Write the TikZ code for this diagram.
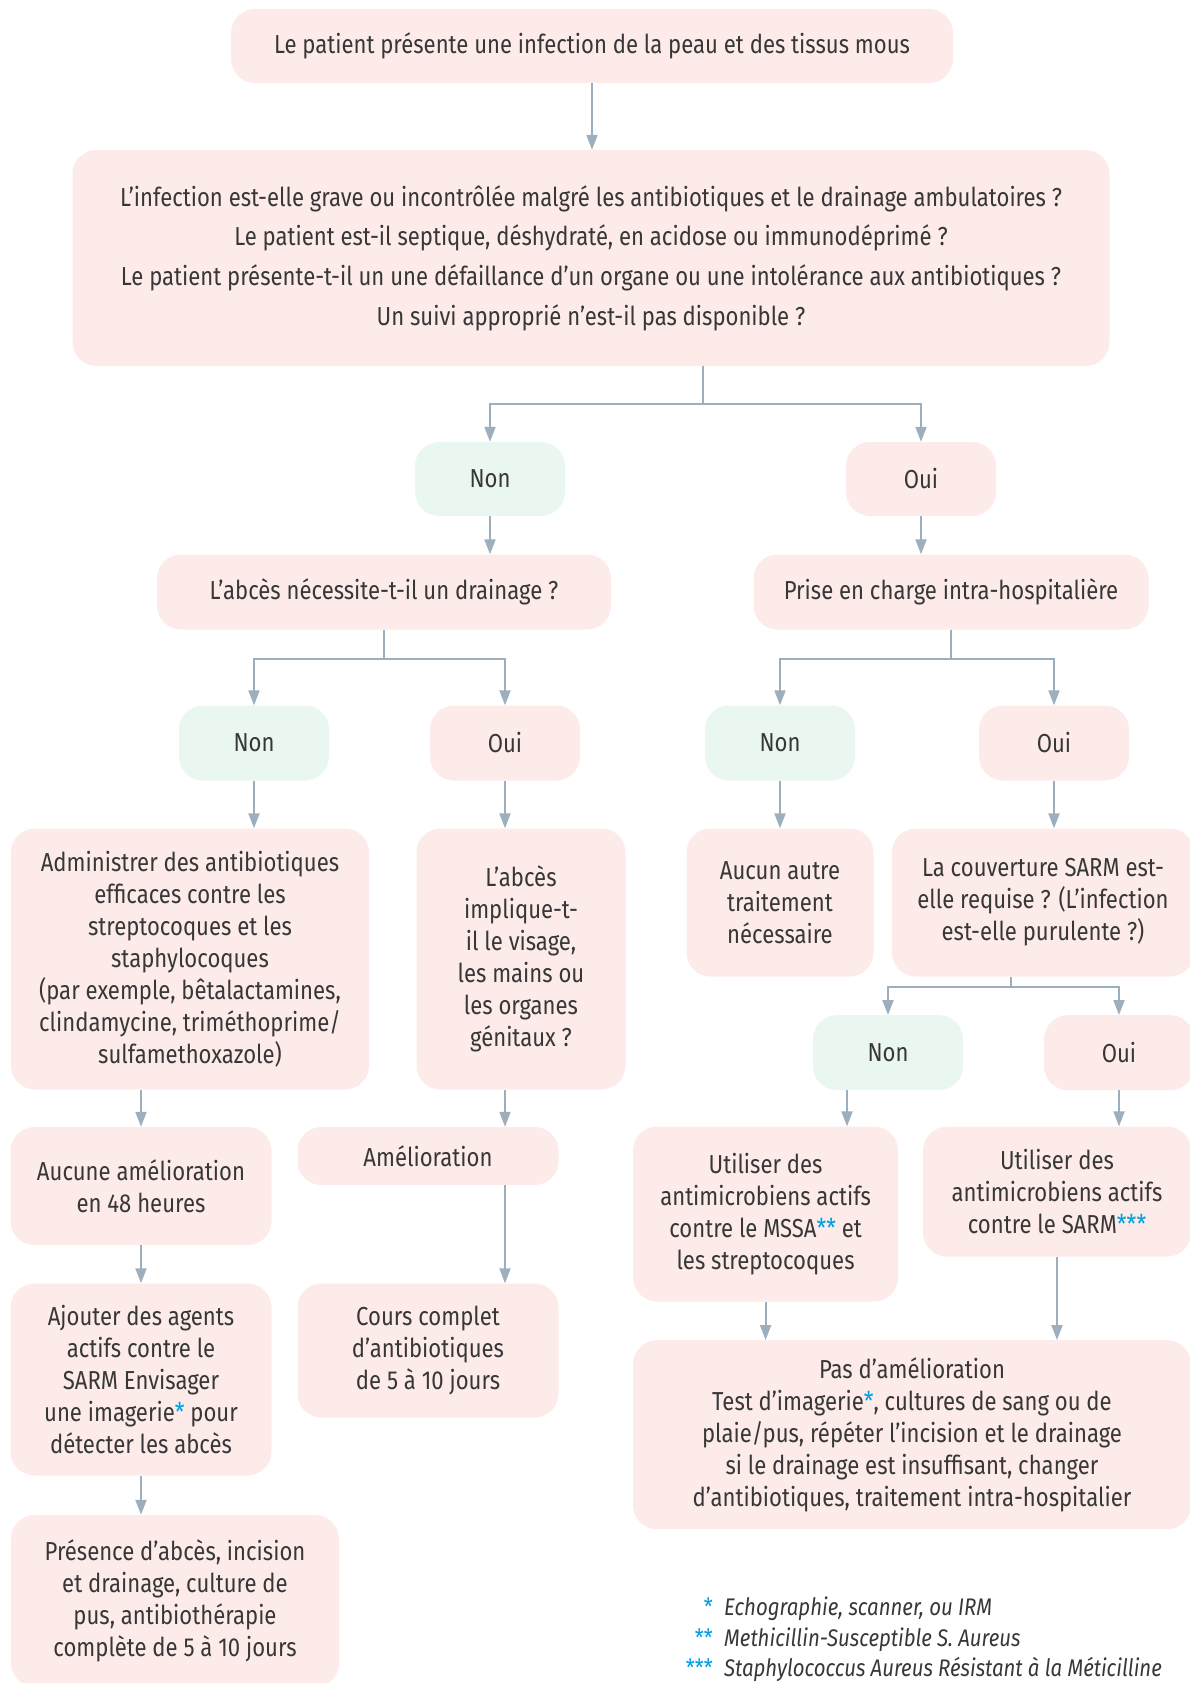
\documentclass[tikz,border=0pt]{standalone}
\usepackage{fontspec}
\setmainfont{Fira Sans}[FakeStretch=0.85]
\usetikzlibrary{arrows.meta}
\definecolor{boxpink}{RGB}{252,235,233}
\definecolor{boxgreen}{RGB}{234,246,240}
\definecolor{linegray}{RGB}{157,174,189}
\definecolor{txtgray}{RGB}{55,55,55}
\definecolor{starblue}{RGB}{0,158,224}
\newcommand{\st}[1]{\textcolor{starblue}{#1}}
\tikzset{
  box/.style={rectangle, rounded corners=24pt, inner sep=0pt, align=center, text=txtgray,
    font=\fontsize{26}{32}\selectfont},
  pinkbox/.style={box, fill=boxpink},
  greenbox/.style={box, fill=boxgreen},
  link/.style={draw=linegray, line width=2pt},
  note/.style={inner sep=0pt, text=txtgray, font=\fontsize{24}{28}\selectfont\itshape},
}
\begin{document}
\begin{tikzpicture}[x=1pt, y=-1pt, >={Triangle[length=15pt,width=11pt]}]
  \useasboundingbox (0,0) rectangle (1190,1683);
  \clip (0,0) rectangle (1190,1683);
  \node[pinkbox, minimum width=722pt, minimum height=74pt] (top) at (592,46)
    {Le patient présente une infection de la peau et des tissus mous};
  \node[pinkbox, minimum width=1037pt, minimum height=216pt, font=\fontsize{26}{39.7}\selectfont] (big) at (591,258)
    {L’infection est-elle grave ou incontrôlée malgré les antibiotiques et le drainage ambulatoires ?\\
     Le patient est-il septique, déshydraté, en acidose ou immunodéprimé ?\\
     Le patient présente-t-il un une défaillance d’un organe ou une intolérance aux antibiotiques ?\\
     Un suivi approprié n’est-il pas disponible ?};
  \node[greenbox, minimum width=150pt, minimum height=74pt] (non1) at (490,479) {Non};
  \node[pinkbox, minimum width=150pt, minimum height=74pt] (oui1) at (921,479) {Oui};
  \node[pinkbox, minimum width=454pt, minimum height=75pt] (drain) at (384,592)
    {L’abcès nécessite-t-il un drainage ?};
  \node[pinkbox, minimum width=395pt, minimum height=75pt] (prise) at (951,592)
    {Prise en charge intra-hospitalière};
  \node[greenbox, minimum width=150pt, minimum height=75pt] (non2) at (254,743) {Non};
  \node[pinkbox, minimum width=150pt, minimum height=75pt] (oui2) at (505,743) {Oui};
  \node[greenbox, minimum width=150pt, minimum height=75pt] (non3) at (780,743) {Non};
  \node[pinkbox, minimum width=150pt, minimum height=75pt] (oui3) at (1054,743) {Oui};
  \node[pinkbox, minimum width=358pt, minimum height=261pt] (admin) at (190,959)
    {Administrer des antibiotiques\\efficaces contre les\\streptocoques et les\\staphylocoques\\
     (par exemple, bêtalactamines,\\clindamycine, triméthoprime/\\sulfamethoxazole)};
  \node[pinkbox, minimum width=209pt, minimum height=261pt] (abces) at (521,959)
    {L’abcès\\implique-t-\\il le visage,\\les mains ou\\les organes\\génitaux ?};
  \node[pinkbox, minimum width=187pt, minimum height=148pt] (aucun) at (780,902.5)
    {Aucun autre\\traitement\\nécessaire};
  \node[pinkbox, minimum width=302pt, minimum height=148pt] (couv) at (1043,902.5)
    {La couverture SARM est-\\elle requise ? (L’infection\\est-elle purulente ?)};
  \node[pinkbox, minimum width=261pt, minimum height=118pt] (aucune) at (141,1186)
    {Aucune amélioration\\en 48 heures};
  \node[pinkbox, minimum width=261pt, minimum height=58pt] (amel) at (428,1156) {Amélioration};
  \node[pinkbox, minimum width=261pt, minimum height=134pt] (cours) at (428,1350.5)
    {Cours complet\\d’antibiotiques\\de 5 à 10 jours};
  \node[pinkbox, minimum width=261pt, minimum height=192pt] (ajout) at (141,1379.5)
    {Ajouter des agents\\actifs contre le\\SARM Envisager\\une imagerie\st{*} pour\\détecter les abcès};
  \node[pinkbox, minimum width=328pt, minimum height=172pt] (presence) at (175,1601)
    {Présence d’abcès, incision\\et drainage, culture de\\pus, antibiothérapie\\complète de 5 à 10 jours};
  \node[greenbox, minimum width=150pt, minimum height=75pt] (non4) at (888,1052.7) {Non};
  \node[pinkbox, minimum width=150pt, minimum height=75pt] (oui4) at (1119,1052.7) {Oui};
  \node[pinkbox, minimum width=265pt, minimum height=175pt] (mssa) at (765.6,1214)
    {Utiliser des\\antimicrobiens actifs\\contre le MSSA\st{**} et\\les streptocoques};
  \node[pinkbox, minimum width=268pt, minimum height=130pt] (sarm) at (1057,1191.6)
    {Utiliser des\\antimicrobiens actifs\\contre le SARM\st{***}};
  \node[pinkbox, minimum width=558pt, minimum height=189pt] (pas) at (912,1434.7)
    {Pas d’amélioration\\Test d’imagerie\st{*}, cultures de sang ou de\\plaie/pus, répéter l’incision et le drainage\\
     si le drainage est insuffisant, changer\\d’antibiotiques, traitement intra-hospitalier};
  \node[note, anchor=base west] (n1) at (724,1615) {Echographie, scanner, ou IRM};
  \node[note, anchor=base west] (n2) at (724,1646) {Methicillin-Susceptible S. Aureus};
  \node[note, anchor=base west] (n3) at (724,1676) {Staphylococcus Aureus Résistant à la Méticilline};
  \node[note, anchor=base east, text=starblue, font=\fontsize{24}{28}\selectfont] (k1) at (713,1615) {*};
  \node[note, anchor=base east, text=starblue, font=\fontsize{24}{28}\selectfont] (k2) at (713,1646) {**};
  \node[note, anchor=base east, text=starblue, font=\fontsize{24}{28}\selectfont] (k3) at (713,1676) {***};
  \coordinate (s1) at (703,403.5);
  \coordinate (s2) at (384,659);
  \coordinate (s3) at (951,659);
  \coordinate (s4) at (1011,987.3);
  \draw[link,->] (top.south) -- (top.south |- big.north);
  \draw[link] (big.south -| s1) -- (s1);
  \draw[link,->] (s1) -| (non1.north);
  \draw[link,->] (s1) -| (oui1.north);
  \draw[link,->] (non1.south) -- (non1.south |- drain.north);
  \draw[link,->] (oui1.south) -- (oui1.south |- prise.north);
  \draw[link] (drain.south) -- (s2);
  \draw[link,->] (s2) -| (non2.north);
  \draw[link,->] (s2) -| (oui2.north);
  \draw[link] (prise.south) -- (s3);
  \draw[link,->] (s3) -| (non3.north);
  \draw[link,->] (s3) -| (oui3.north);
  \draw[link,->] (non2.south) -- (non2.south |- admin.north);
  \draw[link,->] (oui2.south) -- (oui2.south |- abces.north);
  \draw[link,->] (non3.south) -- (non3.south |- aucun.north);
  \draw[link,->] (oui3.south) -- (oui3.south |- couv.north);
  \draw[link] (couv.south -| s4) -- (s4);
  \draw[link,->] (s4) -| (non4.north);
  \draw[link,->] (s4) -| (oui4.north);
  \draw[link,->] (aucune.north |- admin.south) -- (aucune.north);
  \draw[link,->] (abces.south -| oui2) -- (oui2 |- amel.north);
  \draw[link,->] (amel.south -| oui2) -- (oui2 |- cours.north);
  \draw[link,->] (aucune.south) -- (ajout.north);
  \draw[link,->] (ajout.south) -- (ajout.south |- presence.north);
  \draw[link,->] ([xshift=-41pt]non4.south) -- ([xshift=-41pt]non4.south |- mssa.north);
  \draw[link,->] (oui4.south) -- (oui4.south |- sarm.north);
  \draw[link,->] (mssa.south) -- (mssa.south |- pas.north);
  \draw[link,->] (sarm.south) -- (sarm.south |- pas.north);
\end{tikzpicture}
\end{document}
